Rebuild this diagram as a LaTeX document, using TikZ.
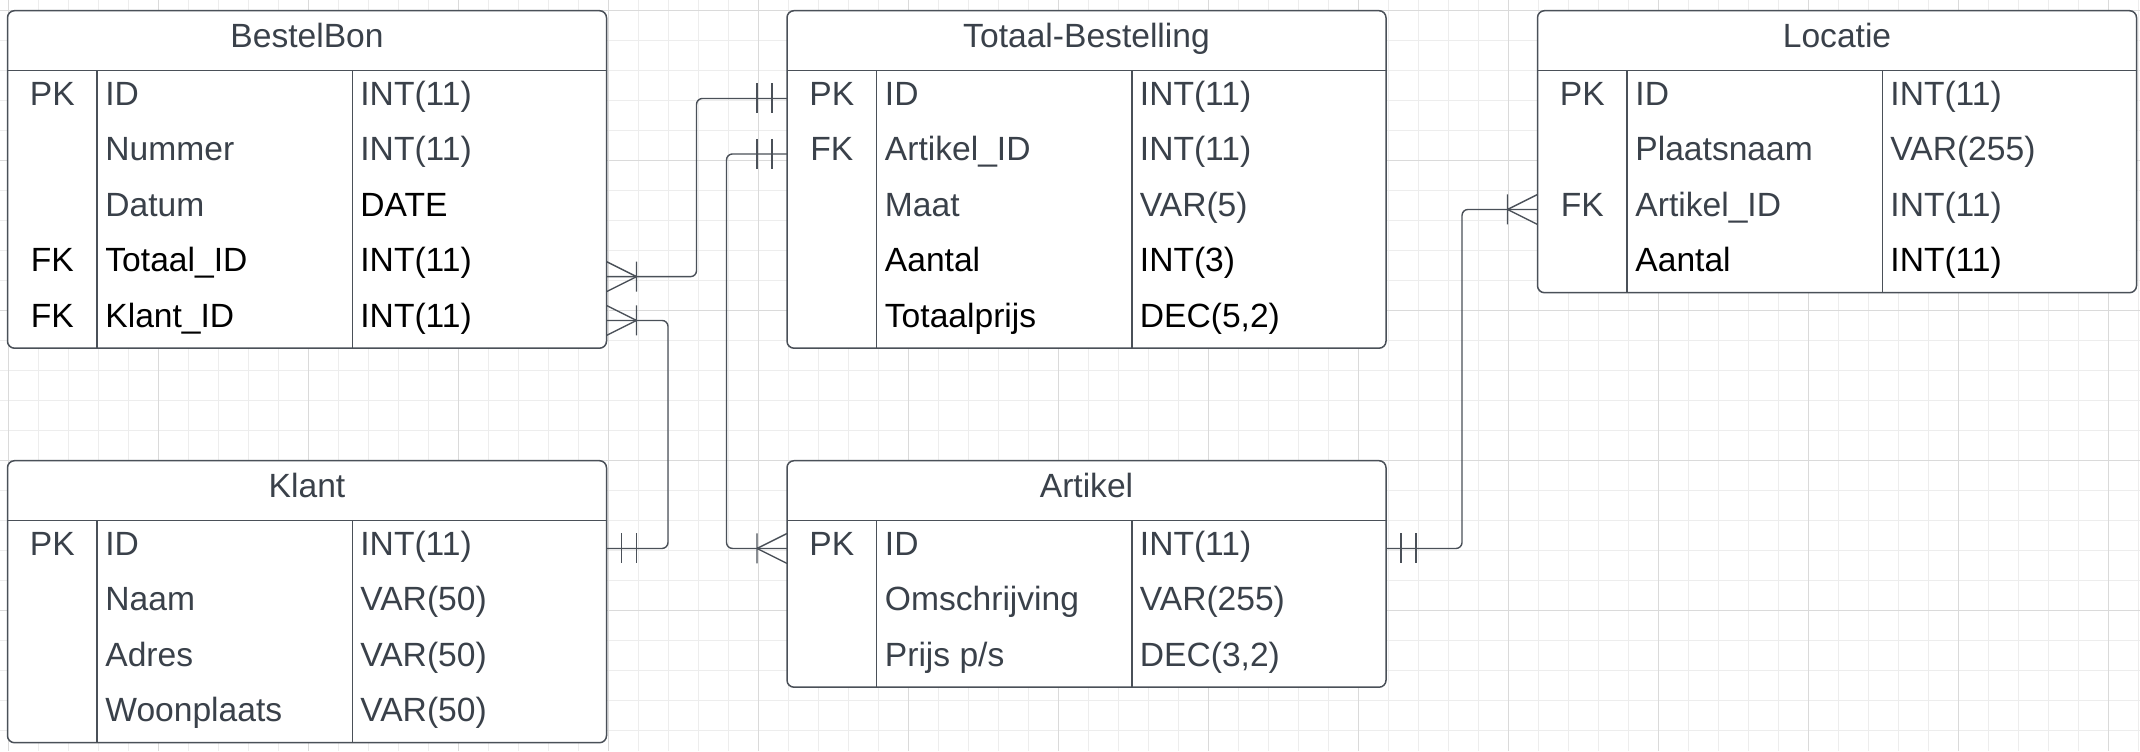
\documentclass[tikz,border=0pt]{standalone}
\usepackage{fontspec}
\setmainfont{Liberation Sans}
\definecolor{soft}{HTML}{3A414A}
\definecolor{ink}{HTML}{000000}
\definecolor{edge}{HTML}{4A5058}
\definecolor{gridlo}{HTML}{EDEDED}
\definecolor{gridhi}{HTML}{DADADA}

\tikzset{
  tblbox/.style={draw=edge, fill=white, line width=0.75pt, rounded corners=3.5pt,
    inner sep=0pt, outer sep=0pt, minimum width=299.5pt, anchor=north west},
  rowbox/.style={inner sep=0pt, outer sep=0pt, minimum width=299.5pt,
    minimum height=27.75pt, anchor=north west},
  tblline/.style={draw=edge, line width=0.75pt},
  cell/.style={inner sep=0pt, anchor=base west, font=\fontsize{16.8}{20}\selectfont},
  keycell/.style={cell, anchor=base},
  rel/.style={draw=edge, line width=0.7pt, rounded corners=3pt},
  mandone/.pic={\draw[rel] (15,-15) -- (15,15) (30,-15) -- (30,15);},
  crowone/.pic={\draw[rel] (0,-15) -- (30,0) (0,15) -- (30,0) (30,-15) -- (30,15);},
}

% #1 name, #2 left, #3 top, #4 rows, #5 title, #6 key/field/type/colour/colour
\newcommand{\ertable}[6]{%
  \node[tblbox, minimum height={(60+55.5*#4)*0.5pt}] (#1) at (#2,#3) {};
  \draw[tblline] ({#2},{#3+60}) -- ++(599,0);
  \draw[tblline] ({#2+89.5},{#3+60}) -- ++(0,{55.5*#4})
    ({#2+344.8},{#3+60}) -- ++(0,{55.5*#4});
  \node[keycell, text=soft] (#1-title) at ({#2+299.5},{#3+37}) {#5};
  \foreach \k/\f/\t/\cf/\ct [count=\i] in {#6} {
    \node[rowbox] (#1-\i) at ({#2},{#3+60+55.5*(\i-1)}) {};
    \node[keycell, text=\cf] (#1-\i-k) at ({#2+44.75},{#3+94.3+55.5*(\i-1)}) {\k};
    \node[cell, text=\cf] (#1-\i-f) at ({#2+97.5},{#3+94.3+55.5*(\i-1)}) {\f};
    \node[cell, text=\ct] (#1-\i-t) at ({#2+352.5},{#3+94.3+55.5*(\i-1)}) {\t};
  }%
}

\begin{document}
\begin{tikzpicture}[x=0.5pt, y=-0.5pt]
  \useasboundingbox (0,0) rectangle (2140,751);
  % grid
  \foreach \g in {0,...,71} \draw[gridlo, line width=0.5pt] ({8.5+30*\g},0) -- ++(0,751);
  \foreach \g in {0,...,24} \draw[gridlo, line width=0.5pt] (0,{10+30*\g}) -- ++(2140,0);
  \foreach \g in {0,...,14} \draw[gridhi, line width=0.5pt] ({8.5+150*\g},0) -- ++(0,751);
  \foreach \g in {0,...,4} \draw[gridhi, line width=0.5pt] (0,{10+150*\g}) -- ++(2140,0);

  % tables
  \ertable{bb}{7.5}{10.7}{5}{BestelBon}{%
    PK/ID/INT(11)/soft/soft,%
    {}/Nummer/INT(11)/soft/soft,%
    {}/Datum/DATE/soft/ink,%
    FK/Totaal\_ID/INT(11)/ink/ink,%
    FK/Klant\_ID/INT(11)/ink/ink}
  \ertable{tb}{787}{10.7}{5}{Totaal-Bestelling}{%
    PK/ID/INT(11)/soft/soft,%
    FK/Artikel\_ID/INT(11)/soft/soft,%
    {}/Maat/VAR(5)/soft/soft,%
    {}/Aantal/INT(3)/ink/ink,%
    {}/Totaalprijs/{DEC(5,2)}/ink/ink}
  \ertable{lo}{1537.5}{10.7}{4}{Locatie}{%
    PK/ID/INT(11)/soft/soft,%
    {}/Plaatsnaam/VAR(255)/soft/soft,%
    FK/Artikel\_ID/INT(11)/soft/soft,%
    {}/Aantal/INT(11)/ink/ink}
  \ertable{kl}{7.5}{460.7}{4}{Klant}{%
    PK/ID/INT(11)/soft/soft,%
    {}/Naam/VAR(50)/soft/soft,%
    {}/Adres/VAR(50)/soft/soft,%
    {}/Woonplaats/VAR(50)/soft/soft}
  \ertable{ar}{787}{460.7}{3}{Artikel}{%
    PK/ID/INT(11)/soft/soft,%
    {}/Omschrijving/VAR(255)/soft/soft,%
    {}/{Prijs p/s}/{DEC(3,2)}/soft/soft}

  % relations
  \coordinate (bb-tot) at ([yshift=-5.85pt]bb-4.east);
  \draw[rel] (bb-tot) -- ++(90,0) |- (tb-1.west);
  \pic at (bb-tot) {crowone};
  \pic[xscale=-1] at (tb-1.west) {mandone};

  \draw[rel] (kl-1.east) -- ++(61.5,0) |- (bb-5.east);
  \pic at (kl-1.east) {mandone};
  \pic at (bb-5.east) {crowone};

  \draw[rel] (tb-2.west) -- ++(-60.5,0) |- (ar-1.west);
  \pic[xscale=-1] at (tb-2.west) {mandone};
  \pic[xscale=-1] at (ar-1.west) {crowone};

  \draw[rel] (ar-1.east) -- ++(76,0) |- (lo-3.west);
  \pic at (ar-1.east) {mandone};
  \pic[xscale=-1] at (lo-3.west) {crowone};
\end{tikzpicture}
\end{document}
